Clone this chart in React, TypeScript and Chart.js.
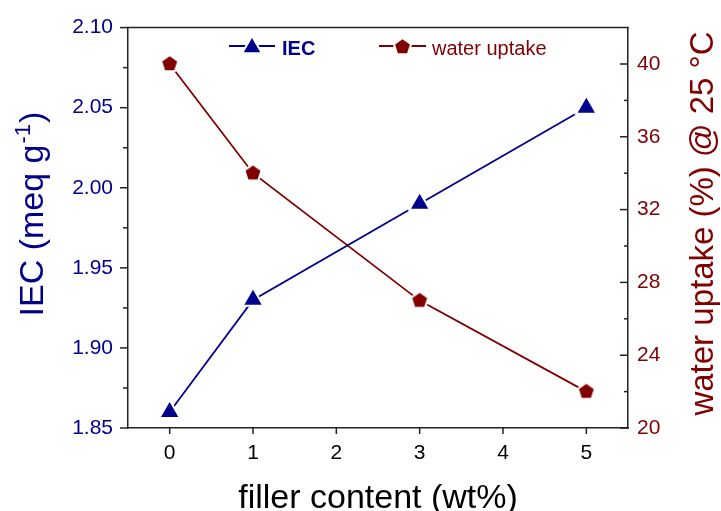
import React, { useEffect, useRef } from 'react';
import { Chart, registerables } from 'chart.js';

Chart.register(...registerables);

// ---- data ----
const FILLER = [0, 1, 3, 5];
const IEC = [1.86, 1.93, 1.99, 2.05];
const WATER = [40, 34, 27, 22];

const X_TICKS = [0, 1, 2, 3, 4, 5];
const IEC_TICKS = [1.85, 1.9, 1.95, 2.0, 2.05, 2.1];
const IEC_MINOR = [1.875, 1.925, 1.975, 2.025, 2.075];
const WATER_TICKS = [20, 24, 28, 32, 36, 40];
const WATER_MINOR = [22, 26, 30, 34, 38];

const X_TITLE = 'filler content (wt%)';
const IEC_TITLE = 'IEC (meq g';
const IEC_TITLE_SUP = '-1';
const IEC_TITLE_END = ')';
const WATER_TITLE = 'water uptake (%) @ 25 °C';
const IEC_LABEL = 'IEC';
const WATER_LABEL = 'water uptake';

// ---- style ----
const W = 721;
const H = 511;
const PLOT_LEFT = 128;
const PLOT_RIGHT = 628;
const PLOT_TOP = 26;
const PLOT_BOTTOM = 428;
const NAVY = '#00008b';
const DARKRED = '#800000';
const AXIS = '#222222';
const FONT = "'Liberation Sans', Arial, Helvetica, sans-serif";

function pentagonPath(ctx: CanvasRenderingContext2D, cx: number, cy: number, r: number) {
  ctx.beginPath();
  for (let i = 0; i < 5; i++) {
    const a = -Math.PI / 2 + (i * 2 * Math.PI) / 5;
    const px = cx + r * Math.cos(a);
    const py = cy + r * Math.sin(a);
    if (i === 0) ctx.moveTo(px, py);
    else ctx.lineTo(px, py);
  }
  ctx.closePath();
}

function trianglePath(ctx: CanvasRenderingContext2D, cx: number, cy: number, r: number) {
  ctx.beginPath();
  for (let i = 0; i < 3; i++) {
    const a = -Math.PI / 2 + (i * 2 * Math.PI) / 3;
    const px = cx + r * Math.cos(a);
    const py = cy + r * Math.sin(a);
    if (i === 0) ctx.moveTo(px, py);
    else ctx.lineTo(px, py);
  }
  ctx.closePath();
}

function makePentagon(color: string, r: number): HTMLCanvasElement {
  const size = 26;
  const c = document.createElement('canvas');
  c.width = size;
  c.height = size;
  const ctx = c.getContext('2d')!;
  pentagonPath(ctx, size / 2, size / 2, r);
  ctx.strokeStyle = '#ffffff';
  ctx.lineWidth = 4;
  ctx.lineJoin = 'round';
  ctx.stroke();
  ctx.fillStyle = color;
  ctx.fill();
  return c;
}

const decorPlugin = {
  id: 'decor',
  afterDraw(chart: any) {
    const { ctx, chartArea, scales } = chart;
    const { left, right, top, bottom } = chartArea;
    const line = (x1: number, y1: number, x2: number, y2: number) => {
      ctx.beginPath();
      ctx.moveTo(x1, y1);
      ctx.lineTo(x2, y2);
      ctx.stroke();
    };
    ctx.save();
    ctx.strokeStyle = AXIS;
    ctx.lineWidth = 1.5;
    ctx.lineCap = 'butt';
    // top border
    line(left - 0.75, top, right + 0.75, top);
    // x ticks (outward)
    X_TICKS.forEach((v) => {
      const px = scales.x.getPixelForValue(v);
      line(px, bottom, px, bottom + 6);
    });
    // left ticks (outward)
    IEC_TICKS.forEach((v) => {
      const py = scales.yL.getPixelForValue(v);
      line(left - 8, py, left, py);
    });
    IEC_MINOR.forEach((v) => {
      const py = scales.yL.getPixelForValue(v);
      line(left - 5, py, left, py);
    });
    // right ticks (inward)
    WATER_TICKS.forEach((v) => {
      const py = scales.yR.getPixelForValue(v);
      line(right - 8, py, right, py);
    });
    WATER_MINOR.forEach((v) => {
      const py = scales.yR.getPixelForValue(v);
      line(right - 4, py, right, py);
    });

    // x title
    ctx.fillStyle = '#000000';
    ctx.font = `34px ${FONT}`;
    ctx.textAlign = 'center';
    ctx.textBaseline = 'alphabetic';
    ctx.fillText(X_TITLE, (left + right) / 2, 508);

    // left title with superscript
    ctx.save();
    ctx.translate(43, 215);
    ctx.rotate(-Math.PI / 2);
    ctx.fillStyle = NAVY;
    ctx.textAlign = 'left';
    ctx.font = `34px ${FONT}`;
    const w1 = ctx.measureText(IEC_TITLE).width;
    const w3 = ctx.measureText(IEC_TITLE_END).width;
    ctx.font = `22px ${FONT}`;
    const w2 = ctx.measureText(IEC_TITLE_SUP).width;
    const start = -(w1 + w2 + w3) / 2;
    ctx.font = `34px ${FONT}`;
    ctx.fillText(IEC_TITLE, start, 0);
    ctx.font = `22px ${FONT}`;
    ctx.fillText(IEC_TITLE_SUP, start + w1 + 1, -13);
    ctx.font = `34px ${FONT}`;
    ctx.fillText(IEC_TITLE_END, start + w1 + w2 + 2, 0);
    ctx.restore();

    // right title
    ctx.save();
    ctx.translate(713, 223.5);
    ctx.rotate(-Math.PI / 2);
    ctx.fillStyle = DARKRED;
    ctx.textAlign = 'center';
    ctx.font = `33px ${FONT}`;
    ctx.fillText(WATER_TITLE, 0, 0);
    ctx.restore();

    // legend
    const ly = 46;
    ctx.lineWidth = 1.8;
    ctx.strokeStyle = NAVY;
    line(229, ly, 275, ly);
    trianglePath(ctx, 252, ly + 1.5, 9.5);
    ctx.strokeStyle = '#ffffff';
    ctx.lineWidth = 4;
    ctx.lineJoin = 'round';
    ctx.stroke();
    ctx.fillStyle = NAVY;
    ctx.fill();
    ctx.font = `bold 20px ${FONT}`;
    ctx.textAlign = 'left';
    ctx.textBaseline = 'alphabetic';
    ctx.fillText(IEC_LABEL, 282, 54.5);

    ctx.lineWidth = 1.8;
    ctx.strokeStyle = DARKRED;
    line(379, ly, 426, ly);
    pentagonPath(ctx, 402.5, ly + 1, 7.8);
    ctx.strokeStyle = '#ffffff';
    ctx.lineWidth = 4;
    ctx.stroke();
    ctx.fillStyle = DARKRED;
    ctx.fill();
    ctx.font = `20px ${FONT}`;
    ctx.fillText(WATER_LABEL, 432, 54.5);

    ctx.restore();
  },
};

export default function App() {
  const ref = useRef<HTMLCanvasElement>(null);

  useEffect(() => {
    const canvas = ref.current;
    if (!canvas) return;
    const pentagon = makePentagon(DARKRED, 7.8);
    const gridOpts = { display: true, drawOnChartArea: false, drawTicks: false };
    const borderOpts = { display: true, color: AXIS, width: 1.5 };
    const chart = new Chart(canvas, {
      type: 'line',
      data: {
        datasets: [
          {
            label: IEC_LABEL,
            data: FILLER.map((x, i) => ({ x, y: IEC[i] })),
            yAxisID: 'yL',
            borderColor: NAVY,
            backgroundColor: NAVY,
            borderWidth: 1.8,
            pointStyle: 'triangle',
            pointRadius: 12,
            pointBackgroundColor: NAVY,
            pointBorderColor: '#ffffff',
            pointBorderWidth: 2,
            tension: 0,
            fill: false,
          },
          {
            label: WATER_LABEL,
            data: FILLER.map((x, i) => ({ x, y: WATER[i] })),
            yAxisID: 'yR',
            borderColor: DARKRED,
            backgroundColor: DARKRED,
            borderWidth: 1.8,
            pointStyle: pentagon as any,
            pointRadius: 8,
            tension: 0,
            fill: false,
          },
        ],
      },
      options: {
        animation: false,
        responsive: false,
        events: [],
        layout: { padding: { top: PLOT_TOP, left: 0, right: 0, bottom: 0 } },
        plugins: {
          legend: { display: false },
          tooltip: { enabled: false },
          title: { display: false },
        },
        scales: {
          x: {
            type: 'linear',
            position: 'bottom',
            min: -0.5,
            max: 5.5,
            afterBuildTicks: (s: any) => {
              s.ticks = X_TICKS.map((v) => ({ value: v }));
            },
            afterFit: (s: any) => {
              s.height = H - PLOT_BOTTOM;
            },
            ticks: {
              color: '#000000',
              font: { family: FONT, size: 21 },
              padding: 13,
              maxRotation: 0,
              autoSkip: false,
              callback: (v: any) => String(v),
            },
            grid: gridOpts,
            border: borderOpts,
          },
          yL: {
            type: 'linear',
            position: 'left',
            min: 1.85,
            max: 2.1,
            afterBuildTicks: (s: any) => {
              s.ticks = IEC_TICKS.map((v) => ({ value: v }));
            },
            afterFit: (s: any) => {
              s.width = PLOT_LEFT;
            },
            ticks: {
              color: NAVY,
              font: { family: FONT, size: 21 },
              padding: 15,
              autoSkip: false,
              callback: (v: any) => Number(v).toFixed(2),
            },
            grid: gridOpts,
            border: borderOpts,
          },
          yR: {
            type: 'linear',
            position: 'right',
            min: 20,
            max: 42,
            afterBuildTicks: (s: any) => {
              s.ticks = WATER_TICKS.map((v) => ({ value: v }));
            },
            afterFit: (s: any) => {
              s.width = W - PLOT_RIGHT;
            },
            ticks: {
              color: DARKRED,
              font: { family: FONT, size: 21 },
              padding: 9,
              autoSkip: false,
              callback: (v: any) => String(v),
            },
            grid: gridOpts,
            border: borderOpts,
          },
        },
      } as any,
      plugins: [decorPlugin],
    });
    return () => chart.destroy();
  }, []);

  return (
    <div style={{ position: 'fixed', left: 0, top: 0, width: W, height: H, background: '#ffffff' }}>
      <canvas ref={ref} width={W} height={H} style={{ display: 'block', width: W, height: H }} />
    </div>
  );
}
